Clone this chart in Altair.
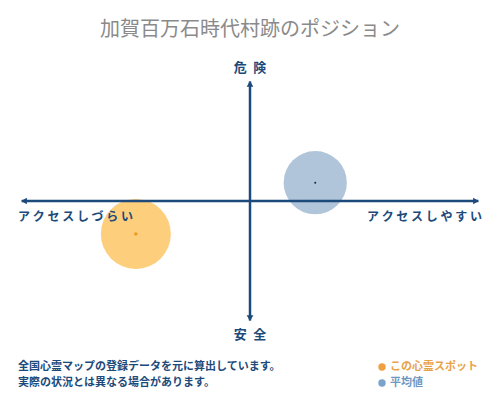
import altair as alt
import pandas as pd

# --- data ---
title_text = "加賀百万石時代村跡のポジション"
axis_top = "危\u2002険"
axis_bottom = "安\u2002全"
axis_left = "ア ク セ ス し づ ら い"
axis_right = "ア ク セ ス し や す い"
note_lines = ["全国心霊マップの登録データを元に算出しています。", "実際の状況とは異なる場合があります。"]
legend_labels = ["この心霊スポット", "平均値"]

spot_access = [-49]
spot_danger = [-27]
avg_access = [28]
avg_danger = [15]

NAVY = "#1c4a7a"
FONT = "Noto Sans CJK JP"

xs = alt.Scale(domain=[-100, 100], range=[9, 475])
ys = alt.Scale(domain=[-100, 100], range=[315, 71])

def X(f="x"):
    return alt.X(f"{f}:Q", scale=xs, axis=None)

def Y(f="y"):
    return alt.Y(f"{f}:Q", scale=ys, axis=None)

spot = pd.DataFrame({"x": spot_access, "y": spot_danger})
avg = pd.DataFrame({"x": avg_access, "y": avg_danger})

hline = alt.Chart(pd.DataFrame({"x": [-98], "x2": [98], "y": [0]})).mark_rule(
    color=NAVY, strokeWidth=2.5).encode(x=X(), x2="x2:Q", y=Y())
vline = alt.Chart(pd.DataFrame({"x": [0], "y": [-98], "y2": [98]})).mark_rule(
    color=NAVY, strokeWidth=2.5).encode(x=X(), y=Y(), y2="y2:Q")

heads = alt.Chart(pd.DataFrame({
    "x": [-97, 97, 0, 0],
    "y": [0, 0, 96, -96],
    "shape": ["triangle-left", "triangle-right", "triangle-up", "triangle-down"],
})).mark_point(filled=True, color=NAVY, opacity=1, size=45).encode(
    x=X(), y=Y(), shape=alt.Shape("shape:N", scale=None))

spot_circle = alt.Chart(spot).mark_circle(color="#fcc25a", opacity=0.8, size=4900).encode(x=X(), y=Y())
avg_circle = alt.Chart(avg).mark_circle(color="#8eabcb", opacity=0.7, size=4000).encode(x=X(), y=Y())
spot_dot = alt.Chart(spot).mark_point(shape="diamond", filled=True, color="#f09a20", opacity=1, size=18).encode(x=X(), y=Y())
avg_dot = alt.Chart(avg).mark_circle(color="#1a2a3a", opacity=1, size=4).encode(x=X(), y=Y())

def label(txt, x, y, size, color, align="center", weight="bold"):
    return alt.Chart(pd.DataFrame({"t": [txt]})).mark_text(
        font=FONT, fontSize=size, color=color, align=align, baseline="middle", fontWeight=weight
    ).encode(x=alt.value(x), y=alt.value(y), text="t:N")

texts = [
    label(title_text, 242, 22, 20, "#8a8a8a", weight="normal"),
    label(axis_top, 242, 60, 13, NAVY),
    label(axis_bottom, 242, 327, 13, NAVY),
    label(axis_left, 10, 209, 12, NAVY, align="left"),
    label(axis_right, 474, 209, 12, NAVY, align="right"),
    label(note_lines[0], 10, 359, 11, NAVY, align="left"),
    label(note_lines[1], 10, 375, 11, NAVY, align="left"),
    label(legend_labels[0], 382, 359, 11, "#e8a24a", align="left"),
    label(legend_labels[1], 382, 375, 11, "#6f98c0", align="left"),
]

leg_dots = alt.Chart(pd.DataFrame({"c": ["#f0a040", "#7aa3c9"], "yy": [359, 375]})).mark_circle(
    opacity=1, size=55).encode(x=alt.value(374), y=alt.Y("yy:Q", scale=None, axis=None),
                               color=alt.Color("c:N", scale=None))

chart = alt.layer(
    spot_circle, avg_circle, hline, vline, heads, spot_dot, avg_dot, leg_dots, *texts
).properties(width=484, height=384, padding=0, autosize="none", background="white"
).configure_view(stroke=None)

chart.save("out.html", embed_options={"renderer": "svg", "actions": False})
